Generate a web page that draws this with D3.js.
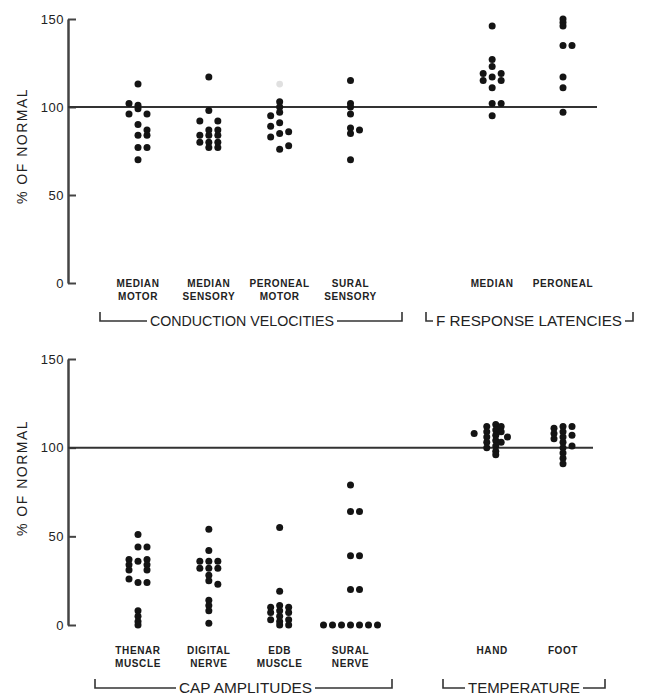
<!DOCTYPE html>
<html>
<head>
<meta charset="utf-8">
<script src="https://cdn.jsdelivr.net/npm/d3@7"></script>
<style>
  body { margin: 0; background: #fff; }
  svg { display: block; font-family: "Liberation Sans", Arial, sans-serif; }
</style>
</head>
<body>
<div id="chart"></div>
<script>
// Each point: [percent of normal, column offset within its stack]
// Top panel: conduction velocities and F response latencies
const medianMotor = [[113,0],[102,-1],[101,0],[99,0],[96,-1],[96,1],[90,0],[87,1],[84,0],[84,1],[77,0],[77,1],[70,0]];
const medianSensory = [[117,0],[98,0],[92,-1],[92,1],[87,0],[87,1],[84,-1],[84,0],[84,1],[80,-1],[80,0],[80,1],[77,0],[77,1]];
const peronealMotor = [[103,0],[100,0],[97,0],[95,-1],[91,0],[89,-1],[86,1],[85,0],[83,-1],[78,1],[76,0]];
const suralSensory = [[115,0],[102,0],[100,0],[96,0],[88,0],[87,1],[85,0],[70,0]];
const fMedian = [[146,0],[127,0],[123,0],[119,-1],[119,1],[117,0],[115,-1],[115,1],[111,0],[102,0],[102,1],[95,0]];
const fPeroneal = [[150,0],[148,0],[146,0],[135,0],[135,1],[117,0],[111,0],[97,0]];
const faintPoints = [[113, 2]]; // pale point above peroneal motor (value, slot index)

// Bottom panel: CAP amplitudes and temperature
const thenarMuscle = [[51,0],[44,0],[44,1],[37,-1],[36,0],[37,1],[34,-1],[34,1],[31,-1],[31,1],[26,-1],[24,0],[24,1],[8,0],[5,0],[2,0],[0,0]];
const digitalNerve = [[54,0],[42,0],[36,-1],[36,0],[36,1],[32,-1],[32,0],[32,1],[28,0],[25,0],[23,1],[14,0],[11,0],[8,0],[1,0]];
const edbMuscle = [[55,0],[19,0],[10,-1],[7,-1],[3,-1],[11,0],[8,0],[5,0],[2,0],[0,0],[10,1],[7,1],[3,1],[0,1]];
const suralNerve = [[79,0],[64,0],[64,1],[39,0],[39,1],[20,0],[20,1],[0,-3],[0,-2],[0,-1],[0,0],[0,1],[0,2],[0,3]];
const hand = [[108,-2],[106,1.7],[112,-0.6],[109,-0.6],[106,-0.6],[103,-0.6],[100,-0.6],[113,0.4],[110,0.4],[107,0.4],[104,0.4],[101,0.4],[98,0.4],[96,0.4],[112,1],[109,1],[103,1]];
const foot = [[111,-1],[108,-1],[105,-1],[112,0],[109,0],[106,0],[103,0],[100,0],[97,0],[94,0],[91,0],[112,1],[107,1],[101,1]];

const yTicks = [0, 50, 100, 150];
const normalValue = 100;

// categories: slot index on the shared x layout, label lines, data
const topCategories = [
  { slot: 0, label: ['MEDIAN', 'MOTOR'], data: medianMotor },
  { slot: 1, label: ['MEDIAN', 'SENSORY'], data: medianSensory },
  { slot: 2, label: ['PERONEAL', 'MOTOR'], data: peronealMotor },
  { slot: 3, label: ['SURAL', 'SENSORY'], data: suralSensory },
  { slot: 5, label: ['MEDIAN'], data: fMedian },
  { slot: 6, label: ['PERONEAL'], data: fPeroneal }
];
const bottomCategories = [
  { slot: 0, label: ['THENAR', 'MUSCLE'], data: thenarMuscle },
  { slot: 1, label: ['DIGITAL', 'NERVE'], data: digitalNerve },
  { slot: 2, label: ['EDB', 'MUSCLE'], data: edbMuscle },
  { slot: 3, label: ['SURAL', 'NERVE'], data: suralNerve },
  { slot: 5, label: ['HAND'], data: hand },
  { slot: 6, label: ['FOOT'], data: foot }
];
// bracket ends and the span the caption text occupies
const topGroups = [
  { text: 'CONDUCTION VELOCITIES', x0: 100, x1: 402, t0: 150, t1: 334 },
  { text: 'F RESPONSE LATENCIES', x0: 426, x1: 633, t0: 436, t1: 622 }
];
const bottomGroups = [
  { text: 'CAP AMPLITUDES', x0: 95, x1: 392, t0: 179, t1: 312 },
  { text: 'TEMPERATURE', x0: 443, x1: 605, t0: 468, t1: 580 }
];

const width = 652, height = 697;
const axisX = 68;
const colStep = 9;
const ink = '#141414';

const svg = d3.select('#chart').append('svg')
  .attr('width', width)
  .attr('height', height);

const x = d3.scaleLinear().domain([0, 6]).range([138, 563]);

function drawPanel(cfg) {
  const y = d3.scaleLinear().domain([0, 150]).range([cfg.y0, cfg.y150]);
  const g = svg.append('g');

  // y axis with ticks pointing inward
  const axis = g.append('g')
    .attr('transform', `translate(${axisX},0)`)
    .call(d3.axisLeft(y).tickValues(yTicks).tickSizeInner(-8).tickSizeOuter(0).tickPadding(4));
  axis.select('.domain').attr('stroke', '#444').attr('stroke-width', 2.5);
  axis.selectAll('.tick line').attr('stroke', '#444').attr('stroke-width', 2);
  axis.selectAll('.tick text')
    .attr('fill', '#222')
    .style('font-size', '13px')
    .style('letter-spacing', '0.5px');

  // y axis title
  g.append('text')
    .attr('transform', `translate(27,${cfg.titleY}) rotate(-90)`)
    .attr('text-anchor', 'middle')
    .attr('fill', '#222')
    .style('font-size', '14px')
    .style('letter-spacing', '1.5px')
    .text('% OF NORMAL');

  // 100% reference line
  g.append('line')
    .attr('x1', axisX).attr('x2', cfg.lineEnd)
    .attr('y1', y(normalValue)).attr('y2', y(normalValue))
    .attr('stroke', '#333')
    .attr('stroke-width', 2);

  // dots
  cfg.categories.forEach(cat => {
    g.append('g').selectAll('circle')
      .data(cat.data)
      .join('circle')
      .attr('cx', d => x(cat.slot) + d[1] * colStep)
      .attr('cy', d => y(d[0]))
      .attr('r', 3.5)
      .attr('fill', ink);

    const lab = g.append('text')
      .attr('text-anchor', 'middle')
      .attr('fill', '#222')
      .style('font-size', '10px')
      .style('font-weight', 'bold')
      .style('letter-spacing', '0.6px');
    cat.label.forEach((line, i) => {
      lab.append('tspan')
        .attr('x', x(cat.slot))
        .attr('y', cfg.labelY + i * 13)
        .text(line);
    });
  });

  if (cfg.faint) {
    g.append('g').selectAll('circle')
      .data(cfg.faint)
      .join('circle')
      .attr('cx', d => x(d[1]))
      .attr('cy', d => y(d[0]))
      .attr('r', 3.4)
      .attr('fill', '#000')
      .attr('opacity', 0.12);
  }

  // group brackets
  cfg.groups.forEach(grp => {
    const by = cfg.bracketY;
    g.append('text')
      .attr('x', grp.t0)
      .attr('y', by + 5)
      .attr('textLength', grp.t1 - grp.t0)
      .attr('lengthAdjust', 'spacingAndGlyphs')
      .attr('fill', '#222')
      .style('font-size', '14px')
      .text(grp.text);
    g.append('path')
      .attr('d', `M${grp.x0},${by - 9}V${by}H${grp.t0 - 3}M${grp.t1 + 3},${by}H${grp.x1}V${by - 9}`)
      .attr('fill', 'none')
      .attr('stroke', '#333')
      .attr('stroke-width', 1.6);
  });
}

drawPanel({
  y0: 283, y150: 19, lineEnd: 597, labelY: 287, bracketY: 321, titleY: 146,
  categories: topCategories, groups: topGroups, faint: faintPoints
});
drawPanel({
  y0: 625, y150: 359, lineEnd: 593, labelY: 654, bracketY: 688, titleY: 478,
  categories: bottomCategories, groups: bottomGroups
});
</script>
</body>
</html>
